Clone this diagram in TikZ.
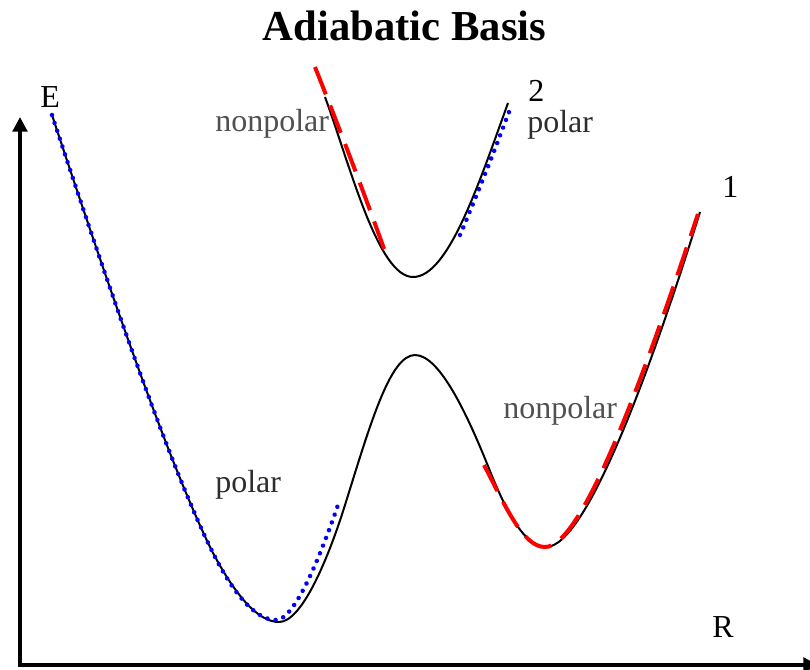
\documentclass[tikz,border=0pt]{standalone}
\usepackage{fontspec}
\setmainfont{Liberation Serif}
\usetikzlibrary{arrows.meta,decorations.markings}
\definecolor{dashred}{RGB}{255,0,0}
\definecolor{dotblue}{RGB}{0,0,255}
\definecolor{labgray}{RGB}{80,80,80}
\definecolor{labdark}{RGB}{45,45,45}
\tikzset{
  axisline/.style={line width=2.6pt, -{Triangle[width=11pt,length=11pt]}},
  adiabat/.style={line width=1.5pt, black},
  nonpolarline/.style={line width=3pt, dashred, dash pattern=on 22pt off 9pt},
  polarline/.style={decorate, decoration={markings,
      mark=between positions 0 and 1 step 6.2pt with {\fill[dotblue] (0,0) circle (1.7pt);}}},
  lab/.style={inner sep=0pt, anchor=base west, font=\fontsize{24pt}{28pt}\selectfont},
}
\begin{document}
\begin{tikzpicture}[x=0.75pt,y=-0.75pt]
\useasboundingbox (0,0) rectangle (810,669);
% axes
\coordinate (origin) at (20,665);
\coordinate (ytip) at (20,117);
\coordinate (xtip) at (818,665);
\draw[axisline] (origin) -- (ytip);
\draw[axisline] ([xshift=-1.3pt]origin) -- (xtip);
% title and labels
\node[inner sep=0pt, anchor=base, font=\fontsize{32pt}{36pt}\selectfont\bfseries] (title) at (404.5,40) {Adiabatic Basis};
\node[lab] (E) at (40,107) {E};
\node[lab] (R) at (712,637) {R};
\node[lab] (two) at (528,101) {2};
\node[lab] (one) at (722,197) {1};
\node[lab, text=labgray] (np1) at (215,131) {nonpolar};
\node[lab, text=labdark] (p1) at (527,132) {polar};
\node[lab, text=labgray] (np2) at (503,418) {nonpolar};
\node[lab, text=labdark] (p2) at (215,492) {polar};
% adiabatic curve 1 (lower)
\draw[adiabat] (52,115) .. controls (102,267) and (168,463) .. (213,553)
  .. controls (237,598) and (259,622) .. (279,622)
  .. controls (303,622) and (330,553) .. (345,505)
  .. controls (370,425) and (390,355) .. (415,355)
  .. controls (440,355) and (468,416) .. (490,471)
  .. controls (508,516) and (526,547) .. (546,547)
  .. controls (586,547) and (650,372) .. (700,212);
% adiabatic curve 2 (upper)
\draw[adiabat] (325,97) .. controls (350,165) and (378,277) .. (413,277)
  .. controls (448,277) and (478,186) .. (508,103);
% diabatic polar (blue dotted)
\path[polarline] (52,115) .. controls (102,267) and (168,463) .. (213,553)
  .. controls (234,595) and (256,620) .. (276,620)
  .. controls (296,620) and (324,546) .. (339,502);
\path[polarline] (460,235) .. controls (475,200) and (494,152) .. (509,112);
% diabatic nonpolar (red dashed)
\draw[nonpolarline] (315,67) .. controls (340,130) and (365,195) .. (388,260);
\draw[nonpolarline] (484,465) .. controls (506,507) and (523,547) .. (545,547)
  .. controls (583,547) and (646,370) .. (698,214);
\end{tikzpicture}
\end{document}
